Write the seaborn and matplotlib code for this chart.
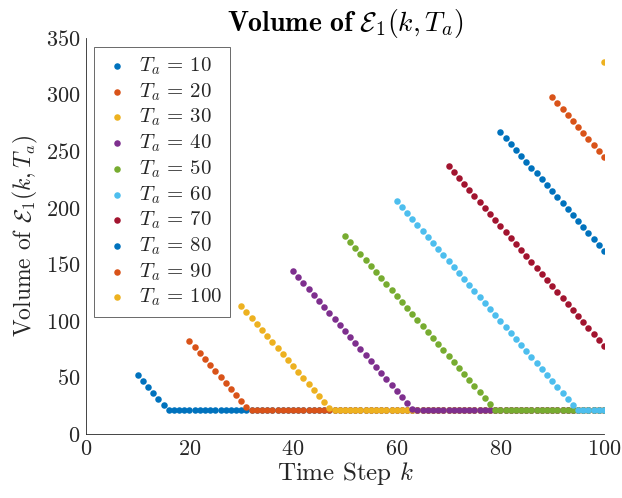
import numpy as np
import pandas as pd
import seaborn as sns
import matplotlib.pyplot as plt

# values
t_a = [10, 20, 30, 40, 50, 60, 70, 80, 90, 100]
floor_volume = 21.0
last_step = 100

descent = {
    10: [51.8, 46.5, 41.2, 35.9, 30.6, 25.3],
    20: [82.6, 77.3, 72.0, 66.7, 61.4, 56.1, 50.8, 45.5, 40.2, 34.9, 29.6, 24.3],
    30: [113.4, 108.1, 102.8, 97.5, 92.2, 86.9, 81.6, 76.3, 71.0, 65.7, 60.4,
         55.1, 49.8, 44.5, 39.2, 33.9, 28.6, 23.3],
    40: [144.2, 138.9, 133.6, 128.3, 123.0, 117.7, 112.4, 107.1, 101.8, 96.5,
         91.2, 85.9, 80.6, 75.3, 70.0, 64.7, 59.4, 54.1, 48.8, 43.5, 38.2,
         32.9, 27.6, 22.3],
    50: [175.0, 169.7, 164.4, 159.1, 153.8, 148.5, 143.2, 137.9, 132.6, 127.3,
         122.0, 116.7, 111.4, 106.1, 100.8, 95.5, 90.2, 84.9, 79.6, 74.3, 69.0,
         63.7, 58.4, 53.1, 47.8, 42.5, 37.2, 31.9, 26.6, 21.3],
    60: [205.8, 200.5, 195.2, 189.9, 184.6, 179.3, 174.0, 168.7, 163.4, 158.1,
         152.8, 147.5, 142.2, 136.9, 131.6, 126.3, 121.0, 115.7, 110.4, 105.1,
         99.8, 94.5, 89.2, 83.9, 78.6, 73.3, 68.0, 62.7, 57.4, 52.1, 46.8,
         41.5, 36.2, 30.9, 25.6],
    70: [236.6, 231.3, 226.0, 220.7, 215.4, 210.1, 204.8, 199.5, 194.2, 188.9,
         183.6, 178.3, 173.0, 167.7, 162.4, 157.1, 151.8, 146.5, 141.2, 135.9,
         130.6, 125.3, 120.0, 114.7, 109.4, 104.1, 98.8, 93.5, 88.2, 82.9, 77.6],
    80: [267.4, 262.1, 256.8, 251.5, 246.2, 240.9, 235.6, 230.3, 225.0, 219.7,
         214.4, 209.1, 203.8, 198.5, 193.2, 187.9, 182.6, 177.3, 172.0, 166.7,
         161.4],
    90: [298.2, 292.9, 287.6, 282.3, 277.0, 271.7, 266.4, 261.1, 255.8, 250.5,
         245.2],
    100: [329.0],
}

colors = ["#0072BD", "#D95319", "#EDB120", "#7E2F8E", "#77AC30",
          "#4DBEEE", "#A2142F", "#0072BD", "#D95319", "#EDB120"]

sns.set_style("white")
plt.rcParams["font.family"] = "serif"
plt.rcParams["font.serif"] = ["cmr10"]
plt.rcParams["mathtext.fontset"] = "cm"
plt.rcParams["axes.formatter.use_mathtext"] = True

fig = plt.figure(figsize=(6.22, 4.98), dpi=100)
ax = fig.add_axes([0.138, 0.1285, 0.833, 0.795])

for ta, c in zip(t_a, colors):
    vals = descent[ta]
    n_flat = last_step - ta - len(vals) + 1
    y = vals + [floor_volume] * max(n_flat, 0)
    df = pd.DataFrame({"k": np.arange(ta, ta + len(y)), "v": y})
    sns.scatterplot(data=df, x="k", y="v", color=c, s=22, linewidth=0,
                    ax=ax, label=rf"$T_a \,=\, {ta}$")

ax.set_xlim(0, 100)
ax.set_ylim(0, 350)
ax.set_xticks(range(0, 101, 20))
ax.set_yticks(range(0, 351, 50))
ax.tick_params(direction="in", length=4, labelsize=16, color="#262626",
               labelcolor="#262626", pad=4)
for s in ["top", "right"]:
    ax.spines[s].set_visible(False)
for s in ["left", "bottom"]:
    ax.spines[s].set_color("#262626")
    ax.spines[s].set_linewidth(0.6)

ax.set_xlabel(r"Time Step $k$", fontsize=18, color="#262626", labelpad=1)
ax.set_ylabel(r"Volume of $\mathcal{E}_1(k, T_a)$", fontsize=17,
              color="#262626", labelpad=4)
ax.set_title(r"$\mathbf{Volume\ of}\ \mathcal{E}_1(k, T_a)$", fontsize=20,
             color="#000000", pad=5)

leg = ax.legend(loc="upper left", bbox_to_anchor=(0.0155, 0.977), fontsize=15,
                frameon=True, fancybox=False, edgecolor="#262626",
                markerscale=1.0, handletextpad=0.35, labelspacing=0.2,
                borderpad=0.4, handlelength=1.4, borderaxespad=0)
leg.get_frame().set_linewidth(0.6)

fig.savefig("out.png", dpi=100)
